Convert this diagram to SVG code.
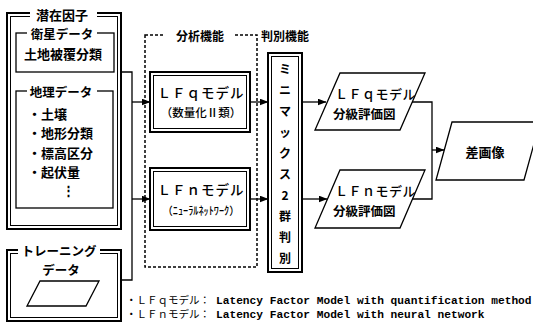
<svg xmlns="http://www.w3.org/2000/svg" width="533" height="326" viewBox="0 0 533 326">
<style>
.g{font-family:"Noto Sans CJK JP",sans-serif;font-weight:bold;font-size:13px;fill:#000;dominant-baseline:central}
.m{font-family:"Noto Sans CJK JP",sans-serif;font-weight:500;fill:#000;dominant-baseline:central;text-anchor:middle}
.c{text-anchor:middle}
.o{fill:none;stroke:#000;stroke-width:2}
.i{fill:none;stroke:#000;stroke-width:1}
.s{fill:none;stroke:#000;stroke-width:1.3}
.d{fill:none;stroke:#000;stroke-width:1.5;stroke-dasharray:3 2}
.w{fill:#fff;stroke:none}
.ln{fill:none;stroke:#000;stroke-width:1.3}
.lg{font-family:"Noto Sans CJK JP",sans-serif;font-size:10.5px;fill:#000}
.en{font-family:"Liberation Mono",monospace;font-weight:bold;font-size:11.2px}
</style>
<defs>
<marker id="ar" markerWidth="9" markerHeight="7" refX="8.5" refY="3.5" orient="auto" markerUnits="userSpaceOnUse">
<path d="M0,0 L9,3.5 L0,7 Z" fill="#000"/>
</marker>
</defs>
<rect width="533" height="326" fill="#fff"/>

<g id="latent">
<rect class="o" x="7" y="13" width="114" height="216"/>
<rect class="i" x="10.5" y="16.5" width="107" height="209"/>
<rect class="w" x="30" y="8" width="67" height="12"/>
<text class="g c" x="62" y="14">潜在因子</text>
</g>

<g id="satellite">
<rect class="s" x="16" y="33" width="98" height="39"/>
<rect class="w" x="27" y="28" width="70" height="10"/>
<text class="g c" x="62" y="33" style="font-size:12.5px">衛星データ</text>
<text class="g c" x="63" y="53">土地被覆分類</text>
</g>

<g id="geo">
<rect class="s" x="16" y="91" width="97" height="117"/>
<rect class="w" x="27" y="86" width="70" height="10"/>
<text class="g c" x="61" y="91" style="font-size:12.5px">地理データ</text>
<text class="g" x="28" y="113">・土壌</text>
<text class="g" x="28" y="132">・地形分類</text>
<text class="g" x="28" y="152">・標高区分</text>
<text class="g" x="28" y="171">・起伏量</text>
<text class="g" x="62" y="189">⋮</text>
</g>

<g id="training">
<rect class="o" x="7" y="250" width="114" height="71"/>
<rect class="i" x="10.5" y="253.5" width="107" height="64"/>
<rect class="w" x="18" y="244" width="82" height="12"/>
<text class="g c" x="59" y="250" style="font-size:12.5px">トレーニング</text>
<text class="g c" x="61" y="269" style="font-size:12.5px">データ</text>
<polygon class="s" points="40,281 99,281 86,306 27,306"/>
</g>

<g id="analysis">
<rect class="d" x="145" y="35" width="112" height="232"/>
<rect class="w" x="163" y="28" width="70" height="14"/>
<text class="g c" x="200" y="35" style="font-size:12px">分析機能</text>
</g>

<g id="lfq">
<rect class="o" x="150" y="72" width="100" height="60"/>
<rect class="i" x="153.5" y="75.5" width="93" height="53"/>
<text class="m" x="201" y="92" style="font-size:13.5px" letter-spacing="1">ＬＦｑモデル</text>
<text class="m" x="201" y="112" style="font-size:11.5px">（数量化Ⅱ類）</text>
</g>

<g id="lfn">
<rect class="o" x="150" y="168" width="100" height="62"/>
<rect class="i" x="153.5" y="171.5" width="93" height="55"/>
<text class="m" x="201" y="189" style="font-size:13.5px" letter-spacing="1">ＬＦｎモデル</text>
<text class="m" x="201" y="210" style="font-size:11px" textLength="77" lengthAdjust="spacingAndGlyphs">（ﾆｭｰﾗﾙﾈｯﾄﾜｰｸ）</text>
</g>

<g id="discrimination">
<text class="g" x="261" y="35" style="font-size:12px">判別機能</text>
</g>

<g id="minimax">
<rect class="o" x="268" y="53" width="34" height="219"/>
<rect class="i" x="271.5" y="56.5" width="27" height="212"/>
<g class="g c" style="font-size:12px">
<text x="285" y="68">ミ</text>
<text x="285" y="89">ニ</text>
<text x="285" y="110">マ</text>
<text x="285" y="131">ッ</text>
<text x="285" y="152">ク</text>
<text x="285" y="173">ス</text>
<text x="285" y="194">2</text>
<text x="285" y="215">群</text>
<text x="285" y="236">判</text>
<text x="285" y="257">別</text>
</g>
</g>

<g id="lfq-map">
<polygon class="s" points="340,73 425,73 400,130 315,130"/>
<text class="m" x="335" y="93" style="font-size:13px;text-anchor:start" letter-spacing="0.5">ＬＦｑモデル</text>
<text class="g" x="333" y="113" style="font-size:12.5px">分級評価図</text>
</g>

<g id="lfn-map">
<polygon class="s" points="340,170 425,170 400,228 315,228"/>
<text class="m" x="335" y="190" style="font-size:13px;text-anchor:start" letter-spacing="0.5">ＬＦｎモデル</text>
<text class="g" x="333" y="210" style="font-size:12.5px">分級評価図</text>
</g>

<g id="diff">
<polygon class="s" points="452,122 540,122 524,180 436,180"/>
<text class="g c" x="485" y="151">差画像</text>
</g>

<g id="connectors">
<polyline class="ln" points="121,72 132,72 132,280 121,280"/>
<line class="ln" x1="132" y1="102" x2="150" y2="102" marker-end="url(#ar)"/>
<line class="ln" x1="132" y1="199" x2="150" y2="199" marker-end="url(#ar)"/>
<line class="ln" x1="250" y1="102" x2="268" y2="102" marker-end="url(#ar)"/>
<line class="ln" x1="250" y1="199" x2="268" y2="199" marker-end="url(#ar)"/>
<line class="ln" x1="302" y1="102" x2="326" y2="102" marker-end="url(#ar)"/>
<line class="ln" x1="302" y1="199" x2="327" y2="199" marker-end="url(#ar)"/>
<polyline class="ln" points="412,102 432,102 432,199 412,199"/>
<line class="ln" x1="432" y1="150" x2="444" y2="150" marker-end="url(#ar)"/>
</g>

<g id="legend">
<text class="lg" x="126" y="304">・ＬＦｑモデル：</text>
<text class="lg en" x="216" y="304">Latency Factor Model with quantification method</text>
<text class="lg" x="126" y="318">・ＬＦｎモデル：</text>
<text class="lg en" x="216" y="318">Latency Factor Model with neural network</text>
</g>
</svg>
